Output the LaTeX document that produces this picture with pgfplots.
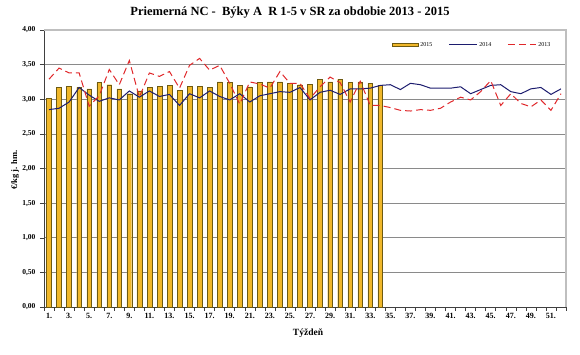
\documentclass[border=0pt]{standalone}
\usepackage{pgfplots}
\pgfplotsset{compat=1.18}
\usepackage{pgfplotstable}
\usepackage{fontspec}
\setmainfont{Liberation Serif}
\definecolor{barfill}{HTML}{F0B72A}
\definecolor{barline}{HTML}{6E5A10}
\definecolor{navy}{HTML}{1C1C6E}
\definecolor{redd}{HTML}{E0282B}
\definecolor{gridc}{HTML}{8A8A8A}

\pgfplotstableread{
w v
1 3.01
2 3.17
3 3.19
4 3.17
5 3.15
6 3.24
7 3.21
8 3.15
9 3.08
10 3.12
11 3.17
12 3.19
13 3.20
14 3.13
15 3.19
16 3.19
17 3.17
18 3.25
19 3.24
20 3.20
21 3.18
22 3.24
23 3.25
24 3.25
25 3.23
26 3.21
27 3.22
28 3.29
29 3.25
30 3.29
31 3.24
32 3.25
33 3.23
34 3.20
}\tfifteen

\pgfplotstableread{
w v
1 2.85
2 2.87
3 2.96
4 3.17
5 3.06
6 2.97
7 3.02
8 2.99
9 3.12
10 3.03
11 3.12
12 3.04
13 3.07
14 2.91
15 3.08
16 3.02
17 3.12
18 3.04
19 2.99
20 3.08
21 2.96
22 3.05
23 3.08
24 3.11
25 3.10
26 3.17
27 2.99
28 3.10
29 3.13
30 3.07
31 3.15
32 3.15
33 3.16
34 3.20
35 3.21
36 3.14
37 3.23
38 3.21
39 3.16
40 3.16
41 3.16
42 3.18
43 3.08
44 3.14
45 3.20
46 3.21
47 3.11
48 3.08
49 3.15
50 3.17
51 3.07
52 3.15
}\tfourteen

\pgfplotstableread{
w v
1 3.29
2 3.45
3 3.38
4 3.38
5 2.90
6 3.05
7 3.43
8 3.21
9 3.56
10 3.03
11 3.38
12 3.33
13 3.40
14 3.16
15 3.49
16 3.59
17 3.42
18 3.49
19 3.23
20 2.93
21 3.25
22 3.22
23 3.16
24 3.40
25 3.23
26 3.23
27 3.01
28 3.18
29 3.32
30 3.24
31 2.96
32 3.26
33 2.91
34 2.91
35 2.88
36 2.84
37 2.83
38 2.85
39 2.84
40 2.87
41 2.96
42 3.03
43 2.99
44 3.11
45 3.27
46 2.91
47 3.08
48 2.94
49 2.89
50 2.99
51 2.84
52 3.08
}\tthirteen

\begin{document}
\begin{tikzpicture}
\path[use as bounding box] (0,0) rectangle (580pt,354pt);
\begin{axis}[
  at={(44pt,47pt)}, anchor=south west,
  scale only axis, width=522pt, height=277pt,
  xmin=0.5, xmax=52.5, ymin=0, ymax=4,
  axis x line*=bottom, axis y line*=left,
  axis line style={draw=black!75, line width=0.6pt},
  xtick={1,3,...,51},
  xticklabels={1.,3.,5.,7.,9.,11.,13.,15.,17.,19.,21.,23.,25.,27.,29.,31.,33.,35.,37.,39.,41.,43.,45.,47.,49.,51.},
  major x tick style={draw=none},
  minor xtick={0.5,1.5,...,52.5},
  minor x tick style={draw=black!75, line width=0.5pt},
  minor tick length=3.5pt,
  ytick={0,0.5,...,4},
  yticklabels={{0,00},{0,50},{1,00},{1,50},{2,00},{2,50},{3,00},{3,50},{4,00}},
  major y tick style={draw=black!75, line width=0.5pt},
  major tick length=4pt,
  tick align=outside,
  ymajorgrids,
  grid style={draw=gridc, line width=0.6pt},
  x tick label style={font=\bfseries\fontsize{8}{9}\selectfont, yshift=1pt},
  y tick label style={font=\bfseries\fontsize{7.5}{8}\selectfont, xshift=-1pt},
  legend style={at={(0.82,0.946)}, anchor=center, draw=none, fill=none,
    font=\fontsize{6}{7}\selectfont, legend columns=3,
    /tikz/every even column/.append style={column sep=14pt}},
  clip=false,
  after end axis/.code={
    \draw[black!25, line width=1.2pt] (rel axis cs:0,1) -- (rel axis cs:1,1) -- (rel axis cs:1,0);
  },
]
\addplot[ybar, bar width=4.8pt, fill=barfill, draw=barline, line width=0.4pt,
  legend image code/.code={\draw[fill=barfill, draw=barline, line width=0.4pt] (0pt,-1.3pt) rectangle (26pt,1.3pt);}]
  table[x=w, y=v] {\tfifteen};
\addlegendentry{2015}
\addplot[navy, line width=1pt, mark=none,
  legend image code/.code={\draw[navy, line width=1pt] (0pt,0pt) -- (28pt,0pt);}]
  table[x=w, y=v] {\tfourteen};
\addlegendentry{2014}
\addplot[redd, line width=1pt, mark=none, dash pattern=on 7pt off 4pt,
  legend image code/.code={\draw[redd, line width=1pt, dash pattern=on 7pt off 4pt] (0pt,0pt) -- (28pt,0pt);}]
  table[x=w, y=v] {\tthirteen};
\addlegendentry{2013}
\end{axis}
\node[font=\bfseries\fontsize{12.5}{14}\selectfont] at (290pt,341pt) {Priemerná NC -\ \ Býky A\ \ R 1-5 v SR za obdobie 2013 - 2015};
\node[font=\bfseries\fontsize{8.5}{10}\selectfont, rotate=90] at (15pt,184pt) {€/kg j. hm.};
\node[font=\bfseries\fontsize{9.5}{11}\selectfont] at (308pt,21pt) {Týždeň};
\end{tikzpicture}
\end{document}
